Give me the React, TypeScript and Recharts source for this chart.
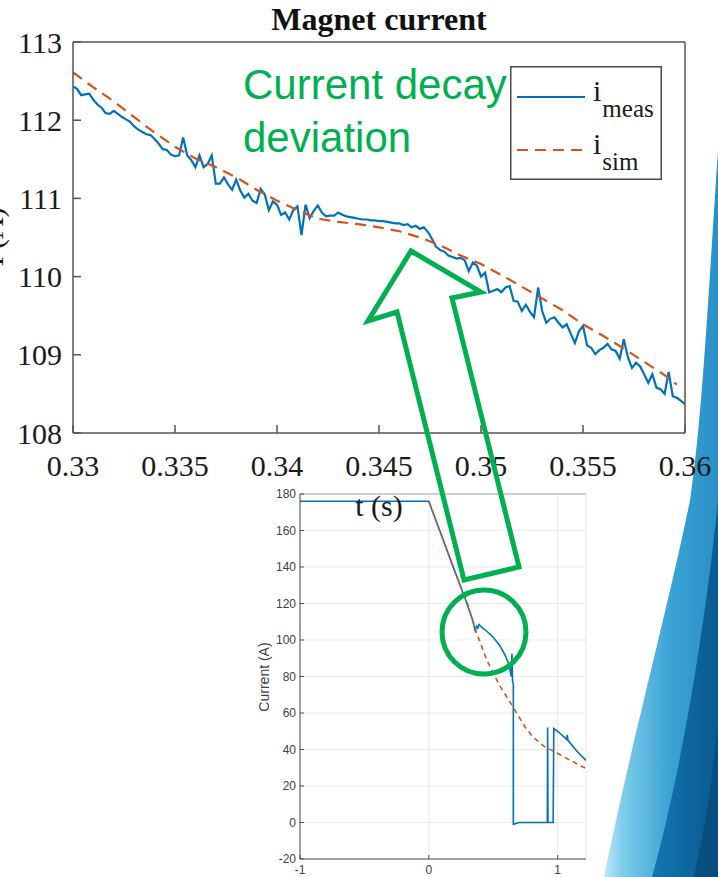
import { LineChart, Line, XAxis, YAxis, CartesianGrid, Legend, ReferenceLine } from "recharts";

// zoomed window: measured current, sampled every 0.2 ms
const MEAS_T0 = 0.33;
const MEAS_DT = 0.0002;
const MEAS_I = [
  112.43, 112.4, 112.32, 112.33, 112.34, 112.26, 112.2, 112.16, 112.09, 112.08,
  112.12, 112.08, 112.04, 112.01, 111.98, 111.92, 111.88, 111.85, 111.82, 111.81,
  111.76, 111.7, 111.63, 111.62, 111.56, 111.54, 111.55, 111.78, 111.55, 111.49,
  111.4, 111.55, 111.4, 111.44, 111.55, 111.19, 111.19, 111.27, 111.18, 111.11,
  111.24, 111.1, 111.01, 111.06, 110.97, 110.94, 111.12, 111.05, 110.85, 110.96,
  110.92, 110.79, 110.82, 110.73, 110.85, 110.9, 110.53, 110.92, 110.75, 110.84,
  110.91, 110.82, 110.77, 110.78, 110.78, 110.82, 110.79, 110.77, 110.76, 110.75,
  110.74, 110.73, 110.73, 110.72, 110.72, 110.71, 110.71, 110.7, 110.69, 110.68,
  110.68, 110.66, 110.67, 110.63, 110.65, 110.61, 110.63, 110.57, 110.48, 110.38,
  110.34, 110.32, 110.27, 110.25, 110.23, 110.24, 110.21, 110.07, 110.18, 110.14,
  110.0, 110.05, 109.8, 109.82, 109.84, 109.8, 109.86, 109.88, 109.69, 109.68,
  109.56, 109.64, 109.55, 109.48, 109.86, 109.56, 109.41, 109.46, 109.48, 109.41,
  109.35, 109.39, 109.27, 109.15, 109.3, 109.37, 109.12, 109.09, 109.01, 109.06,
  109.09, 109.14, 109.07, 109.05, 108.95, 109.2, 108.97, 108.83, 108.9, 108.85,
  108.75, 108.64, 108.75, 108.58, 108.56, 108.5, 108.78, 108.47, 108.45, 108.41,
  108.37,
];

// zoomed window: simulated current
const SIM_T = [
  0.33, 0.331, 0.332, 0.333, 0.334, 0.335, 0.336, 0.337, 0.338, 0.339, 0.34,
  0.341, 0.342, 0.343, 0.344, 0.345, 0.346, 0.347, 0.348, 0.349, 0.35,
  0.351, 0.352, 0.353, 0.354, 0.355, 0.356, 0.357, 0.358, 0.359, 0.3596,
];
const SIM_I = [
  112.61, 112.42, 112.24, 112.04, 111.84, 111.66, 111.51, 111.4, 111.27, 111.11, 110.97,
  110.85, 110.74, 110.7, 110.67, 110.63, 110.58, 110.5, 110.4, 110.27, 110.16,
  110.02, 109.87, 109.72, 109.57, 109.39, 109.24, 109.08, 108.91, 108.74, 108.62,
];

const X_TICKS = [0.33, 0.335, 0.34, 0.345, 0.35, 0.355, 0.36];
const Y_TICKS = [108, 109, 110, 111, 112, 113];

// full discharge overview
const OV_MEAS_T = [
  -1, 0, 0.1, 0.2, 0.28, 0.34, 0.36, 0.37, 0.38, 0.39,
  0.41, 0.45, 0.5, 0.55, 0.59, 0.62, 0.64, 0.645, 0.65, 0.656,
  0.656, 0.7, 0.8, 0.92, 0.922, 0.925, 0.965, 0.97, 1.0, 1.07,
  1.075, 1.08, 1.15, 1.22,
];
const OV_MEAS_I = [
  176, 176, 157, 138, 123, 111, 105, 107.5, 106.5, 108.5,
  107, 104.8, 101.5, 97, 92, 87, 80, 92.5, 77, 76,
  -1, 0, 0, 0, 52, 0, 0, 51.5, 50, 45.5,
  48, 45, 39, 34,
];
const OV_SIM_T = [0, 0.1, 0.2, 0.3, 0.37, 0.45, 0.55, 0.656, 0.75, 0.81, 0.9, 0.97, 1.1, 1.2, 1.22];
const OV_SIM_I = [176, 157, 138, 120, 104, 89, 75, 63, 52, 46.7, 41.5, 39, 34, 30.3, 29.7];
const OV_X_TICKS = [-1, 0, 1];
const OV_Y_TICKS = [-20, 0, 20, 40, 60, 80, 100, 120, 140, 160, 180];

const BLUE = "#0072BD";
const ORANGE = "#D95319";
const GREEN = "#00B050";
const SERIF = "'Liberation Serif', 'Times New Roman', serif";
const SANS = "'Liberation Sans', Arial, sans-serif";

const measRows = MEAS_I.map((i, k) => ({ t: MEAS_T0 + k * MEAS_DT, i }));
const simRows = SIM_T.map((t, k) => ({ t, i: SIM_I[k] }));
const ovMeasRows = OV_MEAS_T.map((t, k) => ({ t, i: OV_MEAS_I[k] }));
const ovSimRows = OV_SIM_T.map((t, k) => ({ t, i: OV_SIM_I[k] }));

const fmtT = (v: number) => String(Number(v.toFixed(3)));

function LegendBox({ payload }: any) {
  const items = payload ?? [];
  return (
    <svg width={152} height={114} style={{ display: "block" }}>
      <rect x={0.75} y={0.75} width={150.5} height={112.5} fill="#fff" stroke="#4a4a4a" strokeWidth={1.5} />
      {items.map((p: any, k: number) => {
        const y = 31 + k * 53;
        return (
          <g key={p.value}>
            <line
              x1={7}
              x2={75}
              y1={y}
              y2={y}
              stroke={p.color}
              strokeWidth={2.2}
              strokeDasharray={p.payload?.strokeDasharray}
            />
            <text x={83} y={y + 4} fontFamily={SERIF} fontSize={30} fill="#1a1a1a">
              i
              <tspan dx={1} dy={16} fontSize={25}>
                {p.value}
              </tspan>
            </text>
          </g>
        );
      })}
    </svg>
  );
}

function ZoomChart() {
  const axisStroke = "#555";
  const tickStyle = { fill: "#1a1a1a", fontSize: 30, fontFamily: SERIF };
  return (
    <LineChart width={718} height={530} margin={{ top: 41, right: 32, bottom: 0, left: 0 }}>
      <XAxis
        xAxisId="b"
        type="number"
        dataKey="t"
        domain={[0.33, 0.36]}
        ticks={X_TICKS}
        allowDataOverflow
        height={97}
        tickSize={-8}
        tickMargin={30}
        stroke={axisStroke}
        strokeWidth={1.5}
        tick={tickStyle}
        tickFormatter={fmtT}
        interval={0}
        label={{ value: "t (s)", position: "insideBottom", offset: 14, fill: "#1a1a1a", fontSize: 30, fontFamily: SERIF }}
      />
      <XAxis
        xAxisId="top"
        orientation="top"
        type="number"
        dataKey="t"
        domain={[0.33, 0.36]}
        ticks={X_TICKS}
        allowDataOverflow
        height={1}
        tickSize={-8}
        tick={false}
        stroke={axisStroke}
        strokeWidth={1.5}
      />
      <YAxis
        yAxisId="l"
        type="number"
        domain={[108, 113]}
        ticks={Y_TICKS}
        allowDataOverflow
        width={73}
        tickSize={-8}
        tickMargin={19}
        stroke={axisStroke}
        strokeWidth={1.5}
        tick={tickStyle}
        interval={0}
        label={() => (
          <text
            x={3}
            y={237}
            transform="rotate(-90 3 237)"
            textAnchor="middle"
            fontFamily={SERIF}
            fontSize={30}
            fill="#1a1a1a"
          >
            I (A)
          </text>
        )}
      />
      <YAxis
        yAxisId="r"
        orientation="right"
        type="number"
        domain={[108, 113]}
        ticks={Y_TICKS}
        allowDataOverflow
        width={1}
        tickSize={-8}
        tick={false}
        stroke={axisStroke}
        strokeWidth={1.5}
      />
      <Line
        xAxisId="b"
        yAxisId="l"
        data={measRows}
        dataKey="i"
        name="meas"
        type="linear"
        stroke={BLUE}
        strokeWidth={2.2}
        dot={false}
        isAnimationActive={false}
      />
      <Line
        xAxisId="b"
        yAxisId="l"
        data={simRows}
        dataKey="i"
        name="sim"
        type="linear"
        stroke={ORANGE}
        strokeWidth={2.2}
        strokeDasharray="11 7"
        dot={false}
        isAnimationActive={false}
      />
      <Legend
        layout="vertical"
        align="center"
        verticalAlign="middle"
        content={LegendBox}
        wrapperStyle={{ left: 510, top: 66, width: 152, height: 114 }}
      />
    </LineChart>
  );
}

function OverviewChart() {
  const tickStyle = { fill: "#404040", fontSize: 12, fontFamily: SANS };
  return (
    <LineChart width={620} height={397} margin={{ top: 14, right: 34, bottom: 0, left: 0 }}>
      <CartesianGrid stroke="#e9e9e9" strokeWidth={1} />
      <XAxis
        type="number"
        dataKey="t"
        domain={[-1, 1.22]}
        ticks={OV_X_TICKS}
        allowDataOverflow
        height={18}
        tickSize={-4}
        tickMargin={10}
        stroke="#4d4d4d"
        tick={tickStyle}
        interval={0}
      />
      <YAxis
        type="number"
        domain={[-20, 180]}
        ticks={OV_Y_TICKS}
        allowDataOverflow
        width={300}
        tickSize={-4}
        tickMargin={8}
        stroke="#4d4d4d"
        tick={tickStyle}
        interval={0}
        label={() => (
          <text
            x={269}
            y={197}
            transform="rotate(-90 269 197)"
            textAnchor="middle"
            fontFamily={SANS}
            fontSize={14}
            fill="#404040"
          >
            Current (A)
          </text>
        )}
      />
      <ReferenceLine y={180} stroke="#c2c2c2" strokeWidth={1.5} />
      <Line
        data={ovMeasRows}
        dataKey="i"
        type="linear"
        stroke={BLUE}
        strokeWidth={1.6}
        dot={false}
        isAnimationActive={false}
      />
      <Line
        data={ovSimRows}
        dataKey="i"
        type="linear"
        stroke={ORANGE}
        strokeWidth={1.6}
        strokeDasharray="5 4"
        dot={false}
        isAnimationActive={false}
      />
    </LineChart>
  );
}

export default function App() {
  return (
    <div
      style={{
        position: "absolute",
        left: 0,
        top: 0,
        width: 718,
        height: 877,
        overflow: "hidden",
        background: "#fff",
      }}
    >
      {/* slide decoration at right */}
      <svg width={718} height={877} style={{ position: "absolute", left: 0, top: 0 }}>
        <defs>
          <linearGradient id="swLight" gradientUnits="userSpaceOnUse" x1={600} y1={0} x2={718} y2={0}>
            <stop offset="0" stopColor="#c9edf8" />
            <stop offset="0.2" stopColor="#7ccbea" />
            <stop offset="0.6" stopColor="#3aa2d4" />
            <stop offset="1" stopColor="#2a8fc6" />
          </linearGradient>
          <linearGradient id="swDark" gradientUnits="userSpaceOnUse" x1={640} y1={0} x2={718} y2={0}>
            <stop offset="0" stopColor="#137cb8" />
            <stop offset="1" stopColor="#0a5a8e" />
          </linearGradient>
        </defs>
        <path d="M718,150 C708,300 702,420 690,500 C670,600 632,740 604,877 L718,877 Z" fill="url(#swLight)" />
        <path d="M718,500 C706,620 682,770 652,877 L718,877 Z" fill="url(#swDark)" />
        <path d="M718,720 C712,790 703,835 694,877 L718,877 Z" fill="#084a78" opacity={0.8} />
      </svg>

      <div style={{ position: "absolute", left: 0, top: 480 }}>
        <OverviewChart />
      </div>

      <div style={{ position: "absolute", left: 0, top: 0 }}>
        <ZoomChart />
      </div>

      <div
        style={{
          position: "absolute",
          left: 73,
          top: 3,
          width: 612,
          textAlign: "center",
          fontFamily: SERIF,
          fontWeight: "bold",
          fontSize: 32,
          lineHeight: "32px",
          color: "#111",
        }}
      >
        Magnet current
      </div>

      {/* annotation layer */}
      <svg width={718} height={877} style={{ position: "absolute", left: 0, top: 0, pointerEvents: "none" }}>
        <text x={243} y={99} fontFamily={SANS} fontSize={42} fill={GREEN}>
          Current decay
        </text>
        <text x={243} y={152} fontFamily={SANS} fontSize={42} fill={GREEN}>
          deviation
        </text>
        <polygon
          points="411,251 481,292 452,298 519,567 464,580 397,312 368,321"
          fill="none"
          stroke={GREEN}
          strokeWidth={5}
          strokeLinejoin="miter"
        />
        <circle cx={484} cy={632} r={42} fill="none" stroke={GREEN} strokeWidth={5} />
      </svg>
    </div>
  );
}
